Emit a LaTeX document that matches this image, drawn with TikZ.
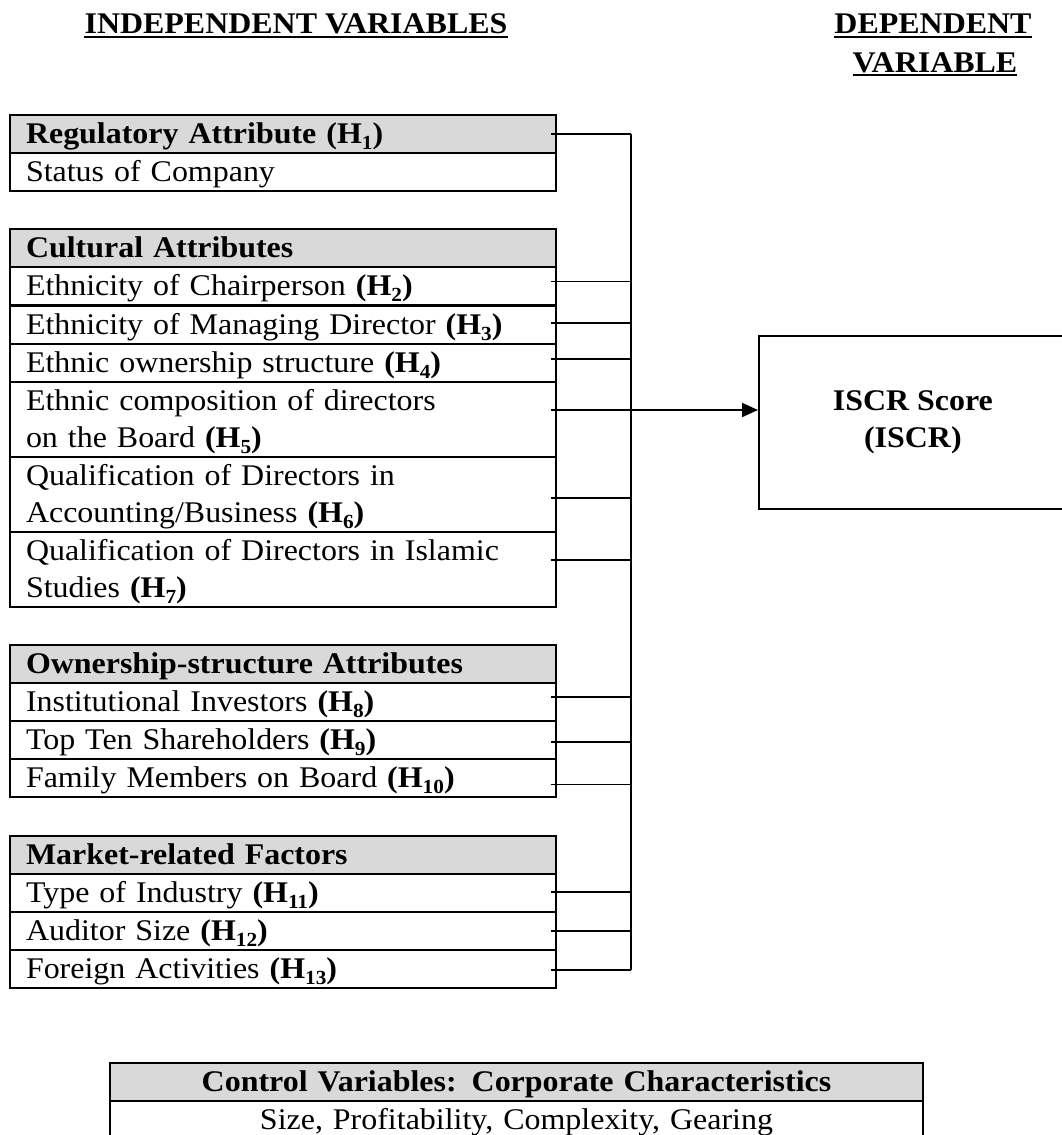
\documentclass[tikz,border=0pt]{standalone}
\usepackage{fontspec}
\setmainfont{Liberation Serif}[FakeStretch=1.065]
\usetikzlibrary{arrows.meta}
\definecolor{hdrgray}{HTML}{D9D9D9}
\newcommand{\mainsz}{\fontsize{30pt}{37pt}\selectfont}
\newcommand{\Hs}[1]{\textbf{(H\raisebox{-0.2em}{\fontsize{20pt}{20pt}\selectfont #1})}}
\begin{document}
\begin{tikzpicture}[x=1pt,y=-1pt,
  cell/.style={draw=black, line width=2pt, anchor=north west, minimum width=546pt,
    minimum height=38pt, inner xsep=16pt, inner ysep=0pt, outer sep=0pt,
    text width=514pt, align=left, text height=19.5pt, text depth=0pt, font=\mainsz},
  hdr/.style={cell, fill=hdrgray, font=\mainsz\bfseries},
  two/.style={minimum height=75pt, text depth=37pt},
  ttl/.style={anchor=base, inner sep=0pt, font=\mainsz\bfseries},
  uline/.style={line width=2.5pt},
  stub/.style={line width=1.3pt},
  busline/.style={line width=1.6pt},
  arr/.style={line width=2pt, -{Triangle[length=16pt,width=14pt]}},
  iscrbox/.style={draw=black, line width=1.8pt, anchor=north west, minimum width=308pt,
    minimum height=173pt, align=center, font=\mainsz\bfseries, inner sep=0pt},
  ctrl/.style={cell, minimum width=813pt, text width=781pt, align=center}
]
\useasboundingbox (0,0) rectangle (1062,1135);
\clip (0,0) rectangle (1062,1135);

% titles
\node[ttl] (ind) at (296,33) {INDEPENDENT VARIABLES};
\draw[uline] ([yshift=-4pt]ind.base west) -- ([yshift=-4pt]ind.base east);
\node[ttl] (dep1) at (933,33) {DEPENDENT};
\draw[uline] ([yshift=-4pt]dep1.base west) -- ([yshift=-4pt]dep1.base east);
\node[ttl] (dep2) at (935,72) {VARIABLE};
\draw[uline] ([yshift=-3pt]dep2.base west) -- ([yshift=-3pt]dep2.base east);

% regulatory
\node[hdr] (rh) at (10,115) {Regulatory Attribute (H\raisebox{-0.2em}{\fontsize{20pt}{20pt}\selectfont 1})};
\node[cell] (r1) at (10,153) {Status of Company};

% cultural
\node[hdr] (ch) at (10,229) {Cultural Attributes};
\node[cell] (c1) at (10,267) {Ethnicity of Chairperson \Hs{2}};
\node[cell] (c2) at (10,306) {Ethnicity of Managing Director \Hs{3}};
\node[cell] (c3) at (10,344) {Ethnic ownership structure \Hs{4}};
\node[cell,two] (c4) at (10,382) {Ethnic composition of directors\\on the Board \Hs{5}};
\node[cell,two] (c5) at (10,457) {Qualification of Directors in\\Accounting/Business \Hs{6}};
\node[cell,two] (c6) at (10,532) {Qualification of Directors in Islamic\\Studies \Hs{7}};

% ownership
\node[hdr] (oh) at (10,645) {Ownership-structure Attributes};
\node[cell] (o1) at (10,683) {Institutional Investors \Hs{8}};
\node[cell] (o2) at (10,721) {Top Ten Shareholders \Hs{9}};
\node[cell] (o3) at (10,759) {Family Members on Board \Hs{10}};

% market
\node[hdr] (mh) at (10,836) {Market-related Factors};
\node[cell] (m1) at (10,874) {Type of Industry \Hs{11}};
\node[cell] (m2) at (10,912) {Auditor Size \Hs{12}};
\node[cell] (m3) at (10,950) {Foreign Activities \Hs{13}};

% dependent
\node[iscrbox] (iscr) at (758,335) {ISCR Score\\(ISCR)};

% control
\node[ctrl, fill=hdrgray, font=\mainsz\bfseries] (kh) at (110,1063) {Control Variables: Corporate Characteristics};
\node[ctrl] (k1) at (110,1101) {Size, Profitability, Complexity, Gearing};

% connectors
\coordinate (bus) at (631,0);
\draw[stub] ([xshift=-5pt]rh.east) coordinate (s0) -- (s0 -| bus);
\draw[stub] ([xshift=-5pt,yshift=4.5pt]c1.east) coordinate (s1) -- (s1 -| bus);
\draw[stub] ([xshift=-5pt,yshift=2pt]c2.east) coordinate (s2) -- (s2 -| bus);
\draw[stub] ([xshift=-5pt,yshift=4pt]c3.east) coordinate (s3) -- (s3 -| bus);
\draw[stub] ([xshift=-5pt,yshift=9.5pt]c4.east) coordinate (s4) -- (s4 -| bus);
\draw[stub] ([xshift=-5pt,yshift=-3.5pt]c5.east) coordinate (s5) -- (s5 -| bus);
\draw[stub] ([xshift=-5pt,yshift=9.5pt]c6.east) coordinate (s6) -- (s6 -| bus);
\draw[stub] ([xshift=-5pt,yshift=5pt]o1.east) coordinate (s7) -- (s7 -| bus);
\draw[stub] ([xshift=-5pt,yshift=-2pt]o2.east) coordinate (s8) -- (s8 -| bus);
\draw[stub] ([xshift=-5pt,yshift=-6.5pt]o3.east) coordinate (s9) -- (s9 -| bus);
\draw[stub] ([xshift=-5pt,yshift=1pt]m1.east) coordinate (s10) -- (s10 -| bus);
\draw[stub] ([xshift=-5pt]m2.east) coordinate (s11) -- (s11 -| bus);
\draw[stub] ([xshift=-5pt,yshift=-1pt]m3.east) coordinate (s12) -- (s12 -| bus);
\draw[busline] (s0 -| bus) -- (s12 -| bus);
\draw[arr] (s4 -| bus) -- (s4 -| iscr.west);
\end{tikzpicture}
\end{document}
